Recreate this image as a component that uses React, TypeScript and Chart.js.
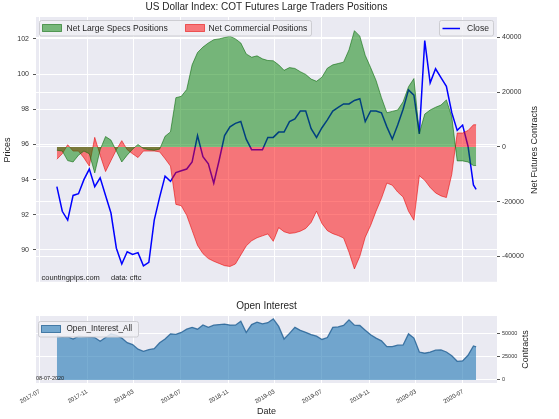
import React, { useEffect, useRef } from 'react';
import { Chart, registerables } from 'chart.js';
Chart.register(...registerables);

// Weekly COT reports, sampled every two weeks (last step one week)
const dates = [
  '2017-08-15','2017-08-29','2017-09-12','2017-09-26','2017-10-10','2017-10-24','2017-11-07','2017-11-21','2017-12-05','2017-12-19',
  '2018-01-02','2018-01-16','2018-01-30','2018-02-13','2018-02-27','2018-03-13','2018-03-27','2018-04-10','2018-04-24','2018-05-08',
  '2018-05-22','2018-06-05','2018-06-19','2018-07-03','2018-07-17','2018-07-31','2018-08-14','2018-08-28','2018-09-11','2018-09-25',
  '2018-10-09','2018-10-23','2018-11-06','2018-11-20','2018-12-04','2018-12-18','2019-01-01','2019-01-15','2019-01-29','2019-02-12',
  '2019-02-26','2019-03-12','2019-03-26','2019-04-09','2019-04-23','2019-05-07','2019-05-21','2019-06-04','2019-06-18','2019-07-02',
  '2019-07-16','2019-07-30','2019-08-13','2019-08-27','2019-09-10','2019-09-24','2019-10-08','2019-10-22','2019-11-05','2019-11-19',
  '2019-12-03','2019-12-17','2019-12-31','2020-01-14','2020-01-28','2020-02-11','2020-02-25','2020-03-10','2020-03-24','2020-04-07',
  '2020-04-21','2020-05-05','2020-05-19','2020-06-02','2020-06-16','2020-06-30','2020-07-14','2020-07-28','2020-08-04',
];

const closePrices = [
  93.6, 92.2, 91.7, 93.1, 93.2, 94.0, 94.6, 93.6, 94.1, 93.1,
  92.1, 90.1, 89.2, 89.9, 89.75, 89.85, 89.1, 89.3, 91.7, 93.0,
  94.2, 93.9, 94.4, 94.5, 94.6, 95.0, 96.5, 95.3, 94.9, 93.8,
  95.1, 96.5, 97.0, 97.2, 97.3, 96.3, 95.7, 95.7, 95.7, 96.4,
  96.4, 96.7, 96.7, 97.3, 97.45, 97.9, 97.9, 96.9, 96.4, 96.95,
  97.4, 97.9, 98.1, 98.3, 98.3, 98.5, 98.6, 97.3, 97.9, 97.9,
  97.8, 97.0, 96.3, 97.1, 98.0, 99.1, 98.8, 96.6, 101.9, 99.5,
  100.3, 99.8, 99.3, 97.8, 96.8, 97.1, 95.9, 93.7, 93.45,
];

const netLargeSpecs = [
  -1200, -1500, -5000, -5500, -3000, -1500, -2500, -9500, -1000, 3800,
  2500, -1500, -5500, -3000, -800, 900, -600, -1000, -1200, -800,
  3900, 5500, 18000, 18500, 21000, 30000, 34500, 36500, 38000, 39200,
  39500, 40000, 40500, 39500, 38000, 34000, 32800, 33300, 32200, 31600,
  31500, 30000, 28000, 29000, 28700, 27500, 26500, 24800, 24000, 25500,
  28800, 30000, 30500, 31000, 35500, 42500, 40500, 33500, 29000, 24300,
  18000, 12500, 13000, 13500, 16500, 22000, 25000, 5000, 12000, 13500,
  14500, 15300, 17200, 11000, -5100, -5100, -5500, -6800, -6800,
];

const netCommercial = [
  -4500, -2500, 800, -1500, -1500, -4000, -7000, 3500, -3000, -9000,
  -5000, -1000, 2300, -1000, -2500, -3900, -1500, -1500, -1500, -1800,
  -4300, -7000, -21000, -21500, -25000, -30500, -36000, -39000, -40800, -41800,
  -42600, -43400, -43700, -42800, -39500, -36200, -34300, -33200, -32500, -31800,
  -34500, -29500, -31000, -31600, -31400, -30800, -29800, -27600, -23500, -28000,
  -30600, -31700, -32400, -33300, -38500, -44600, -40000, -33000, -28700, -23500,
  -18800, -13200, -14000, -16500, -18300, -23500, -26800, -10500, -12200, -14800,
  -16800, -17900, -18500, -10000, 5100, 5100, 6000, 8100, 8100,
];

const openInterest = [
  47000, 46000, 46500, 44000, 47000, 46500, 46000, 45500, 41500, 45500,
  49500, 47800, 45000, 40000, 38000, 33000, 30800, 32500, 33500, 40000,
  44000, 49500, 49000, 51000, 54500, 56500, 54500, 59000, 56500, 58800,
  59500, 60000, 59000, 58800, 63000, 51000, 59500, 62000, 60300, 61500,
  65500, 57500, 44000, 50000, 56500, 53300, 51200, 48700, 47000, 43500,
  45500, 56500, 57000, 58500, 64500, 58800, 58500, 53500, 48500, 44900,
  42000, 35800, 35800, 37400, 37600, 49500, 45000, 30000, 28700, 30000,
  32000, 32200, 30000, 26000, 20000, 20500, 26500, 36500, 35500,
];

const monthTicks = ['2017-07-01','2017-11-01','2018-03-01','2018-07-01','2018-11-01','2019-03-01','2019-07-01','2019-11-01','2020-03-01','2020-07-01'];
const monthTickLabels = ['2017-07','2017-11','2018-03','2018-07','2018-11','2019-03','2019-07','2019-11','2020-03','2020-07'];
const priceTicks = [90, 92, 94, 96, 98, 100, 102];
const netTicks = [-40000, -20000, 0, 20000, 40000];
const oiTicks = [0, 25000, 50000];
const xRangeStart = '2017-06-22';
const xRangeEnd = '2020-09-27';

const FONT = '"Liberation Sans", Arial, "DejaVu Sans", sans-serif';
const f = (s: number) => `${s}px ${FONT}`;
const day = (s: string) => Date.UTC(+s.slice(0, 4), +s.slice(5, 7) - 1, +s.slice(8, 10)) / 86400000;

const bgPlugin = {
  id: 'bgArea',
  beforeDraw(chart: any) {
    const { ctx, chartArea: a } = chart;
    ctx.save();
    ctx.fillStyle = '#EAEAF2';
    ctx.fillRect(a.left, a.top, a.right - a.left, a.bottom - a.top);
    ctx.restore();
  },
};

function box(ctx: CanvasRenderingContext2D, x: number, y: number, w: number, h: number) {
  ctx.save();
  ctx.fillStyle = 'rgba(240,240,245,0.85)';
  ctx.strokeStyle = 'rgba(205,205,210,1)';
  ctx.lineWidth = 1;
  ctx.beginPath();
  (ctx as any).roundRect(x, y, w, h, 2);
  ctx.fill();
  ctx.stroke();
  ctx.restore();
}

function text(ctx: CanvasRenderingContext2D, s: string, x: number, y: number, size: number, align: CanvasTextAlign = 'left', rot = 0, color = '#262626') {
  ctx.save();
  ctx.translate(x, y);
  if (rot) ctx.rotate(rot);
  ctx.font = f(size);
  ctx.fillStyle = color;
  ctx.textAlign = align;
  ctx.textBaseline = 'middle';
  ctx.fillText(s, 0, 0);
  ctx.restore();
}

const mainText = {
  id: 'mainText',
  afterDraw(chart: any) {
    const ctx = chart.ctx as CanvasRenderingContext2D;
    text(ctx, 'US Dollar Index: COT Futures Large Traders Positions', 266.5, 7.5, 10, 'center');
    text(ctx, 'Prices', 7.5, 150, 9, 'center', -Math.PI / 2);
    text(ctx, 'Net Futures Contracts', 535, 150, 9, 'center', -Math.PI / 2);
    // left legend
    box(ctx, 39.5, 20.5, 272, 15.5);
    ctx.save();
    ctx.fillStyle = 'rgba(0,128,0,0.5)';
    ctx.strokeStyle = 'rgba(0,100,0,0.55)';
    ctx.fillRect(42.5, 24.5, 19, 7);
    ctx.strokeRect(42.5, 24.5, 19, 7);
    ctx.fillStyle = 'rgba(255,0,0,0.5)';
    ctx.strokeStyle = 'rgba(230,0,0,0.55)';
    ctx.fillRect(185.5, 24.5, 19, 7);
    ctx.strokeRect(185.5, 24.5, 19, 7);
    ctx.restore();
    text(ctx, 'Net Large Specs Positions', 66.5, 28.5, 8.6);
    text(ctx, 'Net Commercial Positions', 208.5, 28.5, 8.6);
    // right legend
    box(ctx, 439.5, 20.5, 54, 15.5);
    ctx.save();
    ctx.strokeStyle = '#0000ff';
    ctx.lineWidth = 1.5;
    ctx.beginPath();
    ctx.moveTo(442.5, 28.5);
    ctx.lineTo(460, 28.5);
    ctx.stroke();
    ctx.restore();
    text(ctx, 'Close', 467, 28.5, 8.6);
    text(ctx, 'countingpips.com', 41.5, 278, 7.5);
    text(ctx, 'data: cftc', 111, 278, 7.5);
  },
};

const oiText = {
  id: 'oiText',
  afterDraw(chart: any) {
    const ctx = chart.ctx as CanvasRenderingContext2D;
    text(ctx, 'Open Interest', 266.5, 16.5, 10, 'center');
    text(ctx, 'Contracts', 526, 59.5, 9, 'center', -Math.PI / 2);
    text(ctx, 'Date', 266.5, 121.5, 9, 'center');
    box(ctx, 38.5, 31.5, 100, 15.5);
    ctx.save();
    ctx.fillStyle = 'rgba(31,119,180,0.6)';
    ctx.strokeStyle = 'rgba(40,100,150,0.8)';
    ctx.fillRect(41.5, 35.5, 19, 7);
    ctx.strokeRect(41.5, 35.5, 19, 7);
    ctx.restore();
    text(ctx, 'Open_Interest_All', 66.5, 39, 8.2);
    text(ctx, '08-07-2020', 36, 88, 5.5, 'left', 0, '#222');
  },
};

export default function App() {
  const mainRef = useRef<HTMLCanvasElement>(null);
  const oiRef = useRef<HTMLCanvasElement>(null);

  useEffect(() => {
    const xs = dates.map(day);
    const pts = (vals: number[]) => vals.map((v, i) => ({ x: xs[i], y: v }));
    const xTickVals = monthTicks.map(day);
    const xMin = day(xRangeStart);
    const xMax = day(xRangeEnd);
    const setTicks = (vals: number[]) => (scale: any) => {
      scale.ticks = vals.map((v) => ({ value: v }));
    };
    const tickFont = (s: number) => ({ family: FONT, size: s });

    const main = new Chart(mainRef.current!, {
      type: 'line',
      data: {
        datasets: [
          {
            label: 'Net Large Specs Positions',
            data: pts(netLargeSpecs),
            yAxisID: 'yR',
            borderColor: 'rgba(0,100,0,0.55)',
            backgroundColor: 'rgba(0,128,0,0.5)',
            borderWidth: 1,
            fill: 'origin',
            pointRadius: 0,
            tension: 0,
          },
          {
            label: 'Net Commercial Positions',
            data: pts(netCommercial),
            yAxisID: 'yR',
            borderColor: 'rgba(230,0,0,0.55)',
            backgroundColor: 'rgba(255,0,0,0.5)',
            borderWidth: 1,
            fill: 'origin',
            pointRadius: 0,
            tension: 0,
          },
          {
            label: 'Close',
            data: pts(closePrices),
            yAxisID: 'y',
            borderColor: '#0000ff',
            borderWidth: 1.5,
            fill: false,
            pointRadius: 0,
            tension: 0,
          },
        ],
      } as any,
      options: {
        responsive: false,
        animation: false,
        events: [],
        layout: { padding: { top: 17, left: 0, right: 0, bottom: 0 } },
        plugins: { legend: { display: false }, title: { display: false }, tooltip: { enabled: false } },
        scales: {
          x: {
            type: 'linear',
            min: xMin,
            max: xMax,
            bounds: 'data',
            afterBuildTicks: setTicks(xTickVals),
            afterFit: (s: any) => { s.height = 7; },
            ticks: { display: false },
            grid: { color: '#ffffff', lineWidth: 1, drawTicks: false },
            border: { display: false },
          },
          y: {
            type: 'linear',
            position: 'left',
            min: 88.19,
            max: 103.245,
            bounds: 'data',
            afterBuildTicks: setTicks(priceTicks),
            afterFit: (s: any) => { s.width = 36; },
            ticks: { font: tickFont(7), color: '#333', padding: 4, callback: (v: any) => String(v) },
            grid: { color: '#ffffff', lineWidth: 1, tickColor: '#555', tickLength: 3 },
            border: { display: false },
          },
          yR: {
            type: 'linear',
            position: 'right',
            min: -49300,
            max: 47500,
            bounds: 'data',
            afterBuildTicks: setTicks(netTicks),
            afterFit: (s: any) => { s.width = 62; },
            ticks: { font: tickFont(7), color: '#333', padding: 2, callback: (v: any) => String(v) },
            grid: { color: '#ffffff', lineWidth: 1, tickColor: '#555', tickLength: 3 },
            border: { display: false },
          },
        },
      } as any,
      plugins: [bgPlugin, mainText],
    });

    const oi = new Chart(oiRef.current!, {
      type: 'line',
      data: {
        datasets: [
          {
            label: 'Open_Interest_All',
            data: pts(openInterest),
            yAxisID: 'yR',
            borderColor: 'rgba(40,100,150,0.85)',
            backgroundColor: 'rgba(31,119,180,0.6)',
            borderWidth: 1.3,
            fill: 'origin',
            pointRadius: 0,
            tension: 0,
          },
        ],
      } as any,
      options: {
        responsive: false,
        animation: false,
        events: [],
        layout: { padding: { top: 26, left: 36, right: 0, bottom: 0 } },
        plugins: { legend: { display: false }, title: { display: false }, tooltip: { enabled: false } },
        scales: {
          x: {
            type: 'linear',
            min: xMin,
            max: xMax,
            bounds: 'data',
            afterBuildTicks: setTicks(xTickVals),
            afterFit: (s: any) => { s.height = 36; },
            ticks: {
              autoSkip: false,
              minRotation: 30,
              maxRotation: 30,
              font: tickFont(6),
              color: '#333',
              padding: 5,
              callback: (_v: any, i: number) => monthTickLabels[i],
            },
            grid: { color: '#ffffff', lineWidth: 1, drawTicks: false },
            border: { display: false },
          },
          yR: {
            type: 'linear',
            position: 'right',
            min: -3300,
            max: 68700,
            bounds: 'data',
            afterBuildTicks: setTicks(oiTicks),
            afterFit: (s: any) => { s.width = 62; },
            ticks: { font: tickFont(5.5), color: '#333', padding: 2, callback: (v: any) => String(v) },
            grid: { color: '#ffffff', lineWidth: 1, tickColor: '#555', tickLength: 3 },
            border: { display: false },
          },
        },
      } as any,
      plugins: [bgPlugin, oiText],
    });

    return () => {
      main.destroy();
      oi.destroy();
    };
  }, []);

  return (
    <div style={{ position: 'fixed', left: 0, top: 0, width: 559, height: 419, background: '#ffffff' }}>
      <canvas ref={mainRef} width={559} height={290} style={{ position: 'absolute', left: 0, top: 0, width: 559, height: 290 }} />
      <canvas ref={oiRef} width={559} height={129} style={{ position: 'absolute', left: 0, top: 290, width: 559, height: 129 }} />
    </div>
  );
}
